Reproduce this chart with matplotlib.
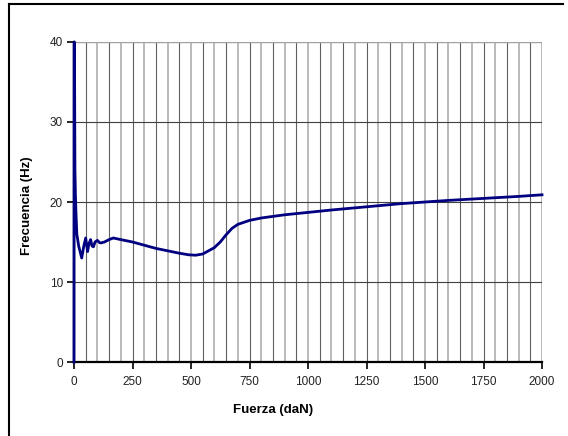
import numpy as np
import matplotlib
matplotlib.use("Agg")
import matplotlib.pyplot as plt
from matplotlib.lines import Line2D
from matplotlib.ticker import MultipleLocator

plt.rcParams['font.family'] = ['Liberation Sans', 'DejaVu Sans']

# Fuerza (daN) vs Frecuencia (Hz)
fuerza = [0, 0.5, 2, 4, 6, 8, 12, 20, 33, 42, 50, 58, 64, 71, 77, 83, 90,
          100, 110, 118, 130, 150, 168, 200, 250, 300, 350, 400, 450, 490,
          520, 550, 575, 600, 625, 650, 675, 700, 750, 800, 900, 1000, 1100,
          1250, 1400, 1500, 1600, 1750, 1900, 2000]
frecuencia = [0, 40, 40, 24, 21, 19, 16, 14.5, 13, 14.5, 15.5, 13.8, 14.8,
              15.3, 14.5, 14.4, 15.0, 15.2, 14.9, 14.9, 15.0, 15.3, 15.5,
              15.3, 15.0, 14.6, 14.2, 13.9, 13.6, 13.4, 13.35, 13.5, 13.9,
              14.3, 15.0, 15.9, 16.7, 17.2, 17.7, 18.0, 18.4, 18.7, 19.0,
              19.4, 19.8, 20.0, 20.2, 20.45, 20.7, 20.9]

fig = plt.figure(figsize=(5.68, 4.36), dpi=100)
ax = fig.add_axes([74 / 568, 1 - 362 / 436, 468 / 568, 320 / 436])

# vertical grid every 50: dark on odd 50s, light on hundreds
for i, gx in enumerate(range(50, 2001, 50)):
    if i % 2 == 0:
        ax.axvline(gx, color='#606060', lw=0.8, zorder=1)
    else:
        ax.axvline(gx, color='#b4b4b4', lw=1.3, zorder=1)
for gy in [10, 20, 30]:
    ax.axhline(gy, color='#404040', lw=0.8, zorder=1)
ax.axhline(40, color='#a0a0a0', lw=1.0, zorder=1)

ax.plot(fuerza, frecuencia, color='#000080', lw=2.0, zorder=5,
        solid_joinstyle='round', clip_on=False)

ax.set_xlim(0, 2000)
ax.set_ylim(0, 40)
ax.xaxis.set_major_locator(MultipleLocator(250))
ax.yaxis.set_major_locator(MultipleLocator(10))
ax.tick_params(direction='out', length=5, width=1.2, labelsize=8.5,
               colors='black', labelcolor='#222222', pad=3)
ax.tick_params(axis='x', pad=5)
for s in ['top', 'right']:
    ax.spines[s].set_visible(False)
for s in ['left', 'bottom']:
    ax.spines[s].set_linewidth(1.6)
    ax.spines[s].set_zorder(4)

fig.text(273 / 568, 1 - 410 / 436, 'Fuerza (daN)', ha='center', va='center',
         fontsize=9.5, fontweight='bold')
fig.text(27 / 568, 1 - 206 / 436, 'Frecuencia (Hz)', ha='center', va='center',
         fontsize=9.5, fontweight='bold', rotation=90)

# outer chart frame (partly cropped)
fig.add_artist(Line2D([8.5 / 568, 563 / 568], [1 - 4.5 / 436] * 2,
                      transform=fig.transFigure, color='black', lw=1.5))
fig.add_artist(Line2D([8.5 / 568] * 2, [1 - 4.5 / 436, 0],
                      transform=fig.transFigure, color='black', lw=1.5))

fig.savefig('out.png', dpi=100)
